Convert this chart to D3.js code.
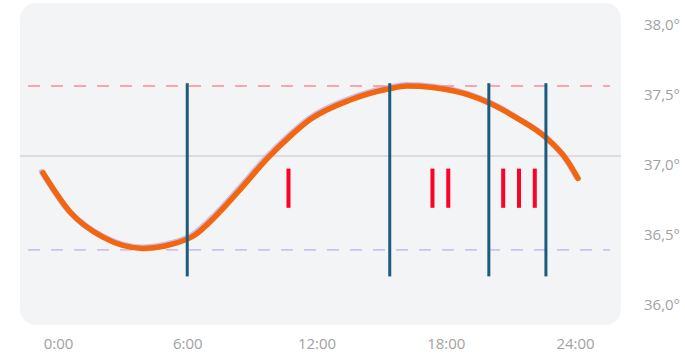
<!DOCTYPE html>
<html>
<head>
<meta charset="utf-8">
<script src="https://cdn.jsdelivr.net/npm/d3@7"></script>
<style>
  body { margin: 0; background: #fff; }
  svg { display: block; font-family: "Open Sans", "Noto Sans", sans-serif; }
</style>
</head>
<body>
<div id="chart"></div>
<script>
// curve readings (hour of day, temperature)
const hours = [-0.7, 0.56, 2.09, 3.95, 5.3, 6.3, 7.38, 8.45, 9.7, 10.77, 11.7, 13.56, 15.37, 16.2, 17.41, 18.99, 20.0, 21.31, 22.66, 23.63, 24.14];
const temps = [36.88, 36.60, 36.42, 36.34, 36.37, 36.43, 36.58, 36.76, 36.98, 37.14, 37.26, 37.40, 37.48, 37.50, 37.49, 37.44, 37.38, 37.27, 37.13, 36.97, 36.84];

const xTicks = [0, 6, 12, 18, 24];
const yTicks = [36, 36.5, 37, 37.5, 38];

const meanTemp = 37.0;
const upperLimit = 37.5;
const lowerLimit = 36.33;

const phaseLines = [6, 15.4, 20, 22.65];
const phaseLineTop = 37.52;
const phaseLineBottom = 36.14;

const phaseMarkHours = [10.7, 17.75, 21.4];
const phaseMarkCounts = [1, 2, 3];
const phaseMarkTop = 36.91;
const phaseMarkBottom = 36.63;

const width = 685, height = 356;

const x = d3.scaleLinear().domain([0, 24]).range([58, 575]);
const y = d3.scaleLinear().domain([36, 38]).range([296, 16]);

const svg = d3.select('#chart').append('svg')
    .attr('width', width)
    .attr('height', height);

// panel background
svg.append('rect')
    .attr('x', 20).attr('y', 3)
    .attr('width', 601).attr('height', 322)
    .attr('rx', 16)
    .attr('fill', '#f3f4f6');

// mean line
svg.append('line')
    .attr('x1', 20).attr('x2', 621)
    .attr('y1', y(meanTemp)).attr('y2', y(meanTemp))
    .attr('stroke', '#c4c4c6')
    .attr('stroke-width', 1.2);

// limit lines
const limits = [
    { value: upperLimit, color: '#f2a8ac' },
    { value: lowerLimit, color: '#cbc3ee' }
];
svg.selectAll('.limit')
    .data(limits)
    .join('line')
    .attr('class', 'limit')
    .attr('x1', 28).attr('x2', 610)
    .attr('y1', d => y(d.value)).attr('y2', d => y(d.value))
    .attr('stroke', d => d.color)
    .attr('stroke-width', 1.8)
    .attr('stroke-dasharray', '12 11');

// temperature curve
const curveData = hours.map((h, i) => ({ h: h, t: temps[i] }));
const line = d3.line()
    .x(d => x(d.h))
    .y(d => y(d.t))
    .curve(d3.curveMonotoneX);

svg.append('path')
    .datum(curveData)
    .attr('d', line)
    .attr('transform', 'translate(-1,-1)')
    .attr('fill', 'none')
    .attr('stroke', '#b9a6ec')
    .attr('stroke-opacity', 0.7)
    .attr('stroke-width', 6)
    .attr('stroke-linecap', 'round');

svg.append('path')
    .datum(curveData)
    .attr('d', line)
    .attr('fill', 'none')
    .attr('stroke', '#f4650f')
    .attr('stroke-width', 5.5)
    .attr('stroke-linecap', 'round')
    .attr('stroke-linejoin', 'round');

// phase boundaries
svg.selectAll('.phase')
    .data(phaseLines)
    .join('line')
    .attr('class', 'phase')
    .attr('x1', d => x(d)).attr('x2', d => x(d))
    .attr('y1', y(phaseLineTop)).attr('y2', y(phaseLineBottom))
    .attr('stroke', '#1b5c7e')
    .attr('stroke-width', 3);

// roman numeral marks
const marks = [];
phaseMarkHours.forEach((h, i) => {
    const n = phaseMarkCounts[i];
    for (let k = 0; k < n; k++) {
        marks.push({ h: h, offset: (k - (n - 1) / 2) * 15.8 });
    }
});
svg.selectAll('.mark')
    .data(marks)
    .join('rect')
    .attr('class', 'mark')
    .attr('x', d => x(d.h) + d.offset - 2)
    .attr('y', y(phaseMarkTop))
    .attr('width', 4)
    .attr('height', y(phaseMarkBottom) - y(phaseMarkTop))
    .attr('fill', '#fb0226');

// axes
const xAxis = svg.append('g')
    .attr('transform', 'translate(0, 335)')
    .call(d3.axisBottom(x).tickValues(xTicks).tickSize(0).tickFormat(d => `${d}:00`));
xAxis.select('.domain').remove();
xAxis.selectAll('text')
    .attr('fill', '#a2a2a2')
    .style('font-size', '15px')
    .style('font-family', '"Open Sans", sans-serif');

const yAxis = svg.append('g')
    .attr('transform', 'translate(662, 9)')
    .call(d3.axisRight(y).tickValues(yTicks).tickSize(0)
        .tickFormat(d => d.toFixed(1).replace('.', ',') + '°'));
yAxis.select('.domain').remove();
yAxis.selectAll('text')
    .attr('x', 0)
    .attr('text-anchor', 'middle')
    .attr('fill', '#a2a2a2')
    .style('font-size', '15px')
    .style('font-family', '"Open Sans", sans-serif');
</script>
</body>
</html>
